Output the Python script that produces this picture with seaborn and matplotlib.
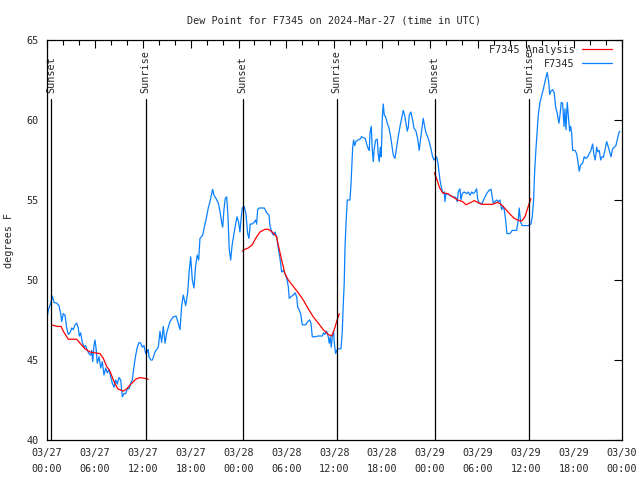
import pandas as pd
import seaborn as sns
import matplotlib.pyplot as plt
import matplotlib.dates as mdates
from matplotlib.lines import Line2D

# station obs: hours after 2024-03-27 00:00 UTC, dew point (F)
obs_hours = [0.0, 0.16, 0.5, 0.66, 0.88, 1.22, 1.5, 1.72, 1.84, 2.04, 2.26, 2.47, 2.67, 2.88, 3.1, 3.3,
             3.51, 3.72, 3.92, 4.05, 4.22, 4.42, 4.67, 4.85, 5.05, 5.26, 5.48, 5.6, 5.73, 5.89, 6.01, 6.14,
             6.3, 6.52, 6.73, 6.93, 7.14, 7.36, 7.56, 7.77, 7.98, 8.18, 8.4, 8.61, 8.81, 9.02, 9.24, 9.44,
             9.65, 9.86, 10.06, 10.28, 10.53, 10.69, 10.9, 11.12, 11.32, 11.53, 11.74, 11.94, 12.16, 12.37,
             12.57, 12.69, 12.78, 13.0, 13.2, 13.41, 13.53, 13.95, 14.16, 14.37, 14.57, 14.79, 15.0, 15.41,
             15.83, 16.17, 16.45, 16.67, 16.88, 17.08, 17.38, 17.63, 17.83, 18.01, 18.21, 18.42, 18.63, 18.83,
             19.01, 19.17, 19.51, 19.71, 19.92, 20.21, 20.43, 20.64, 20.76, 20.93, 21.18, 21.47, 21.68, 21.89,
             22.02, 22.18, 22.34, 22.52, 22.68, 22.84, 23.02, 23.18, 23.43, 23.65, 23.81, 24.02, 24.18, 24.35,
             24.47, 24.72, 24.94, 25.15, 25.31, 25.47, 25.72, 25.94, 26.15, 26.27, 26.4, 26.6, 27.23, 27.53,
             27.82, 27.94, 28.16, 28.36, 28.57, 28.78, 28.98, 29.2, 29.41, 29.61, 29.82, 30.04, 30.24, 30.36,
             30.58, 30.86, 31.08, 31.29, 31.42, 31.62, 31.79, 31.99, 32.42, 32.67, 32.92, 33.08, 33.25, 33.58,
             34.0, 34.5, 34.67, 34.84, 35.05, 35.25, 35.37, 35.5, 35.62, 35.75, 35.92, 36.0, 36.17, 36.42,
             36.84, 37.0, 37.13, 37.25, 37.34, 37.47, 37.63, 37.97, 38.1, 38.22, 38.31, 38.43, 38.56, 38.72,
             38.97, 39.22, 39.43, 39.63, 39.88, 40.06, 40.26, 40.39, 40.48, 40.64, 40.76, 40.89, 41.01, 41.19,
             41.39, 41.52, 41.64, 41.77, 41.89, 42.02, 42.14, 42.27, 42.44, 42.64, 42.86, 43.07, 43.23, 43.4,
             43.61, 43.82, 44.02, 44.24, 44.45, 44.65, 44.82, 44.99, 45.15, 45.28, 45.4, 45.61, 45.78, 45.99,
             46.24, 46.45, 46.65, 46.83, 47.03, 47.15, 47.33, 47.49, 47.7, 47.9, 48.12, 48.33, 48.5, 48.66,
             48.83, 49.0, 49.12, 49.25, 49.46, 49.66, 49.79, 49.87, 50.0, 50.29, 50.63, 50.92, 51.22, 51.42,
             51.54, 51.75, 51.88, 52.04, 52.29, 52.59, 52.79, 53.01, 53.22, 53.42, 53.63, 53.84, 53.97, 54.13,
             54.55, 54.8, 55.1, 55.39, 55.64, 55.8, 55.93, 56.14, 56.35, 56.55, 56.77, 56.98, 57.18, 57.3,
             57.48, 57.64, 58.02, 58.31, 58.86, 59.06, 59.18, 59.36, 59.56, 60.31, 60.65, 60.81, 60.99, 61.07,
             61.15, 61.28, 61.44, 61.57, 61.78, 61.99, 62.19, 62.41, 62.57, 62.7, 62.87, 63.0, 63.16, 63.37,
             63.57, 63.75, 63.95, 64.16, 64.29, 64.45, 64.62, 64.79, 64.91, 65.04, 65.2, 65.38, 65.5, 65.63,
             65.75, 65.88, 66.17, 66.38, 66.54, 66.7, 66.88, 67.13, 67.33, 67.54, 67.76, 67.96, 68.17, 68.38,
             68.55, 68.71, 68.89, 69.05, 69.21, 69.39, 69.55, 69.72, 69.92, 70.14, 70.3, 70.46, 70.68, 70.89,
             71.09, 71.3, 71.46, 71.67, 71.8]
obs_dew = [47.6, 48.1, 48.6, 49.0, 48.6, 48.55, 48.4, 47.9, 47.4, 47.9, 47.8, 47.0, 46.6, 46.7, 47.0, 46.9,
           47.2, 47.3, 47.0, 46.5, 46.7, 46.1, 45.8, 45.9, 45.6, 45.4, 45.3, 45.6, 44.9, 45.9, 46.25, 45.8,
           44.8, 45.2, 44.5, 44.9, 44.06, 44.5, 44.2, 44.4, 43.96, 43.55, 43.3, 43.75, 43.5, 43.9, 43.75, 42.7,
           42.9, 42.9, 43.2, 43.2, 43.6, 43.75, 44.6, 45.3, 45.8, 46.1, 46.05, 45.8, 45.9, 45.4,
           45.5, 45.65, 45.2, 45.0, 45.0, 45.3, 45.5, 45.8, 46.8, 46.1, 47.1, 46.05, 46.7, 47.4,
           47.7, 47.75, 47.3, 46.9, 48.4, 49.06, 48.4, 49.2, 50.6, 51.45, 50.0, 49.5, 50.9, 51.56,
           51.25, 52.6, 52.8, 53.3, 53.75, 54.5, 54.9, 55.4, 55.67, 55.3, 55.1, 54.8, 54.3, 53.6,
           53.3, 54.4, 55.1, 55.2, 54.0, 51.9, 51.25, 52.1, 52.9, 53.5, 53.95, 53.6, 53.0, 53.95,
           54.5, 54.6, 54.1, 52.9, 52.6, 53.5, 53.5, 53.6, 53.75, 53.5, 54.4, 54.5, 54.5, 54.2,
           54.06, 53.4, 53.0, 52.8, 53.0, 52.7, 52.0, 51.35, 50.5, 50.6, 50.4, 50.1, 49.6, 48.85,
           48.96, 49.06, 49.2, 48.96, 48.3, 48.1, 47.9, 47.2, 47.2, 47.4, 47.5, 47.3, 46.45, 46.45,
           46.5, 46.5, 46.7, 46.6, 46.8, 46.45, 46.05, 46.45, 45.8, 46.45, 46.8, 46.1, 45.4, 45.7,
           45.7, 46.7, 48.5, 49.8, 51.9, 53.5, 55.0, 55.0, 56.0, 57.4, 58.3, 58.75, 58.4, 58.65,
           58.75, 58.8, 58.96, 58.9, 58.85, 58.5, 58.2, 58.1, 59.2, 59.6, 58.2, 57.4, 58.2, 58.75,
           58.8, 57.8, 57.4, 58.3, 57.7, 60.1, 61.0, 60.3, 60.2, 59.8, 59.5, 58.96, 58.4, 57.8,
           57.6, 58.3, 58.96, 59.6, 60.1, 60.6, 60.3, 59.8, 59.3, 59.55, 60.3, 60.5, 60.1, 59.5,
           59.3, 58.85, 58.1, 58.85, 59.6, 60.1, 59.6, 59.2, 58.96, 58.65, 58.2, 57.7, 57.5, 57.6,
           57.7, 57.3, 56.8, 56.25, 55.7, 55.4, 55.5, 54.9, 55.4, 55.35, 55.25, 55.2, 55.17, 54.9,
           55.5, 55.7, 55.0, 55.4, 55.5, 55.4, 55.5, 55.3, 55.5, 55.4, 55.5, 55.7, 55.1, 54.8,
           54.8, 55.1, 55.4, 55.6, 55.67, 55.2, 54.8, 54.9, 55.0, 54.9, 55.0, 54.4, 54.6, 54.4,
           53.75, 52.9, 52.9, 53.1, 53.1, 53.75, 54.5, 53.6, 53.4, 53.4, 53.5, 53.95, 55.0, 56.25,
           57.1, 58.2, 59.4, 60.3, 61.1, 61.5, 61.9, 62.4, 62.75, 62.96, 62.4, 61.6, 61.8, 61.9,
           61.7, 60.8, 60.4, 59.8, 60.3, 61.1, 61.05, 59.6, 60.7, 59.4, 61.1, 60.0, 59.3, 59.6,
           59.2, 58.1, 58.1, 57.9, 57.4, 56.8, 57.2, 57.3, 57.7, 57.6, 57.7, 57.9, 58.1, 58.5,
           57.8, 57.5, 58.3, 58.0, 58.1, 57.5, 57.7, 57.67, 58.1, 58.65, 58.4, 58.1, 57.7, 58.2,
           58.3, 58.4, 58.75, 59.2, 59.3]

# analysis, one segment per night
ana_seg = [1] * 23 + [2] * 26 + [3] * 25
ana_hours = [0.59, 1.22, 1.76, 2.04, 2.67, 3.72, 4.14, 4.76, 5.39, 6.01, 6.64, 7.06, 7.48, 7.89, 8.31,
             8.86, 9.56, 9.99, 10.53, 11.12, 11.65, 12.28, 12.69,
             24.47, 24.72, 25.22, 25.72, 26.15, 26.69, 27.32, 27.73, 28.23, 28.78, 28.98, 29.41, 29.82,
             30.24, 30.86, 31.49, 32.12, 32.74, 33.37, 34.0, 34.62, 35.25, 35.68, 36.0, 36.3, 36.63,
             48.55, 48.89, 49.17, 49.58, 50.21, 50.83, 51.46, 52.09, 52.51, 52.92, 53.55, 53.96, 54.46,
             55.21, 55.84, 56.47, 56.97, 57.52, 58.06, 58.56, 59.19, 59.52, 59.9, 60.31, 60.65]
ana_dew = [47.2, 47.1, 47.1, 46.8, 46.3, 46.3, 46.05, 45.7, 45.5, 45.45, 45.4, 45.1, 44.6, 44.3, 43.75,
           43.2, 43.05, 43.2, 43.5, 43.8, 43.9, 43.85, 43.8,
           51.8, 51.9, 52.0, 52.2, 52.6, 53.0, 53.17, 53.17, 53.0, 52.7, 52.2, 51.25, 50.4,
           50.0, 49.6, 49.2, 48.75, 48.2, 47.7, 47.3, 46.9, 46.6, 46.5, 46.9, 47.4, 47.9,
           56.7, 56.25, 55.8, 55.45, 55.4, 55.2, 55.0, 54.9, 54.7, 54.8, 54.96, 54.86, 54.73,
           54.73, 54.73, 54.86, 54.7, 54.4, 54.1, 53.85, 53.7, 53.7, 53.95, 54.6, 55.1]

sun_hours = [0.55, 12.37, 24.52, 36.3, 48.57, 60.4]
sun_labels = ['Sunset', 'Sunrise', 'Sunset', 'Sunrise', 'Sunset', 'Sunrise']

start = pd.Timestamp('2024-03-27 00:00')
obs = pd.DataFrame({'time': start + pd.to_timedelta(obs_hours, unit='h'), 'dew': obs_dew})
ana = pd.DataFrame({'time': start + pd.to_timedelta(ana_hours, unit='h'), 'dew': ana_dew, 'seg': ana_seg})

sns.set_style('white')
plt.rcParams['font.family'] = ['DejaVu Sans Mono']
fs = 7.3

fig = plt.figure(figsize=(6.4, 4.8), dpi=100)
ax = fig.add_axes([47 / 640, 40 / 480, 574.5 / 640, 400 / 480])

blue = '#0a80ff'
red = '#ff0000'
sns.lineplot(data=obs, x='time', y='dew', color=blue, linewidth=0.9, ax=ax)
sns.lineplot(data=ana, x='time', y='dew', units='seg', estimator=None, color=red, linewidth=0.9, ax=ax)

for h, lab in zip(sun_hours, sun_labels):
    t = start + pd.Timedelta(hours=h)
    ax.plot([t, t], [40, 61.3], color='black', linewidth=0.9)
    ax.text(t, 61.7, lab, rotation=90, ha='center', va='bottom', fontsize=fs)

ax.set_xlim(start, start + pd.Timedelta(hours=72))
ax.set_ylim(40, 65)
ax.set_yticks([40, 45, 50, 55, 60, 65])
ax.xaxis.set_major_locator(mdates.HourLocator(byhour=[0, 6, 12, 18]))
ax.xaxis.set_minor_locator(mdates.HourLocator(byhour=range(0, 24, 2)))
ax.xaxis.set_major_formatter(mdates.DateFormatter('%m/%d\n%H:%M'))
for lab in ax.get_xticklabels():
    lab.set_linespacing(1.75)
ax.tick_params(axis='both', which='major', direction='in', length=6, width=0.8,
               top=True, right=True, labelsize=fs, pad=6, color='black')
ax.tick_params(axis='x', which='minor', direction='in', length=3.5, width=0.8, top=True, color='black')
for s in ax.spines.values():
    s.set_color('black')
    s.set_linewidth(0.9)

ax.set_xlabel('')
ax.set_ylabel('degrees F', fontsize=fs, labelpad=9)
ax.set_title('Dew Point for F7345 on 2024-Mar-27 (time in UTC)', fontsize=fs, pad=12)

handles = [Line2D([], [], color=red, linewidth=0.9), Line2D([], [], color=blue, linewidth=0.9)]
ax.legend(handles, ['F7345 Analysis', 'F7345'], loc='upper right', frameon=False, markerfirst=False,
          bbox_to_anchor=(1 - 7 / 574.5, 1 - 3 / 400), fontsize=fs, handlelength=3.0,
          handletextpad=0.75, labelspacing=0.35, borderaxespad=0.0, borderpad=0.2)

fig.savefig('out.png', dpi=100)
